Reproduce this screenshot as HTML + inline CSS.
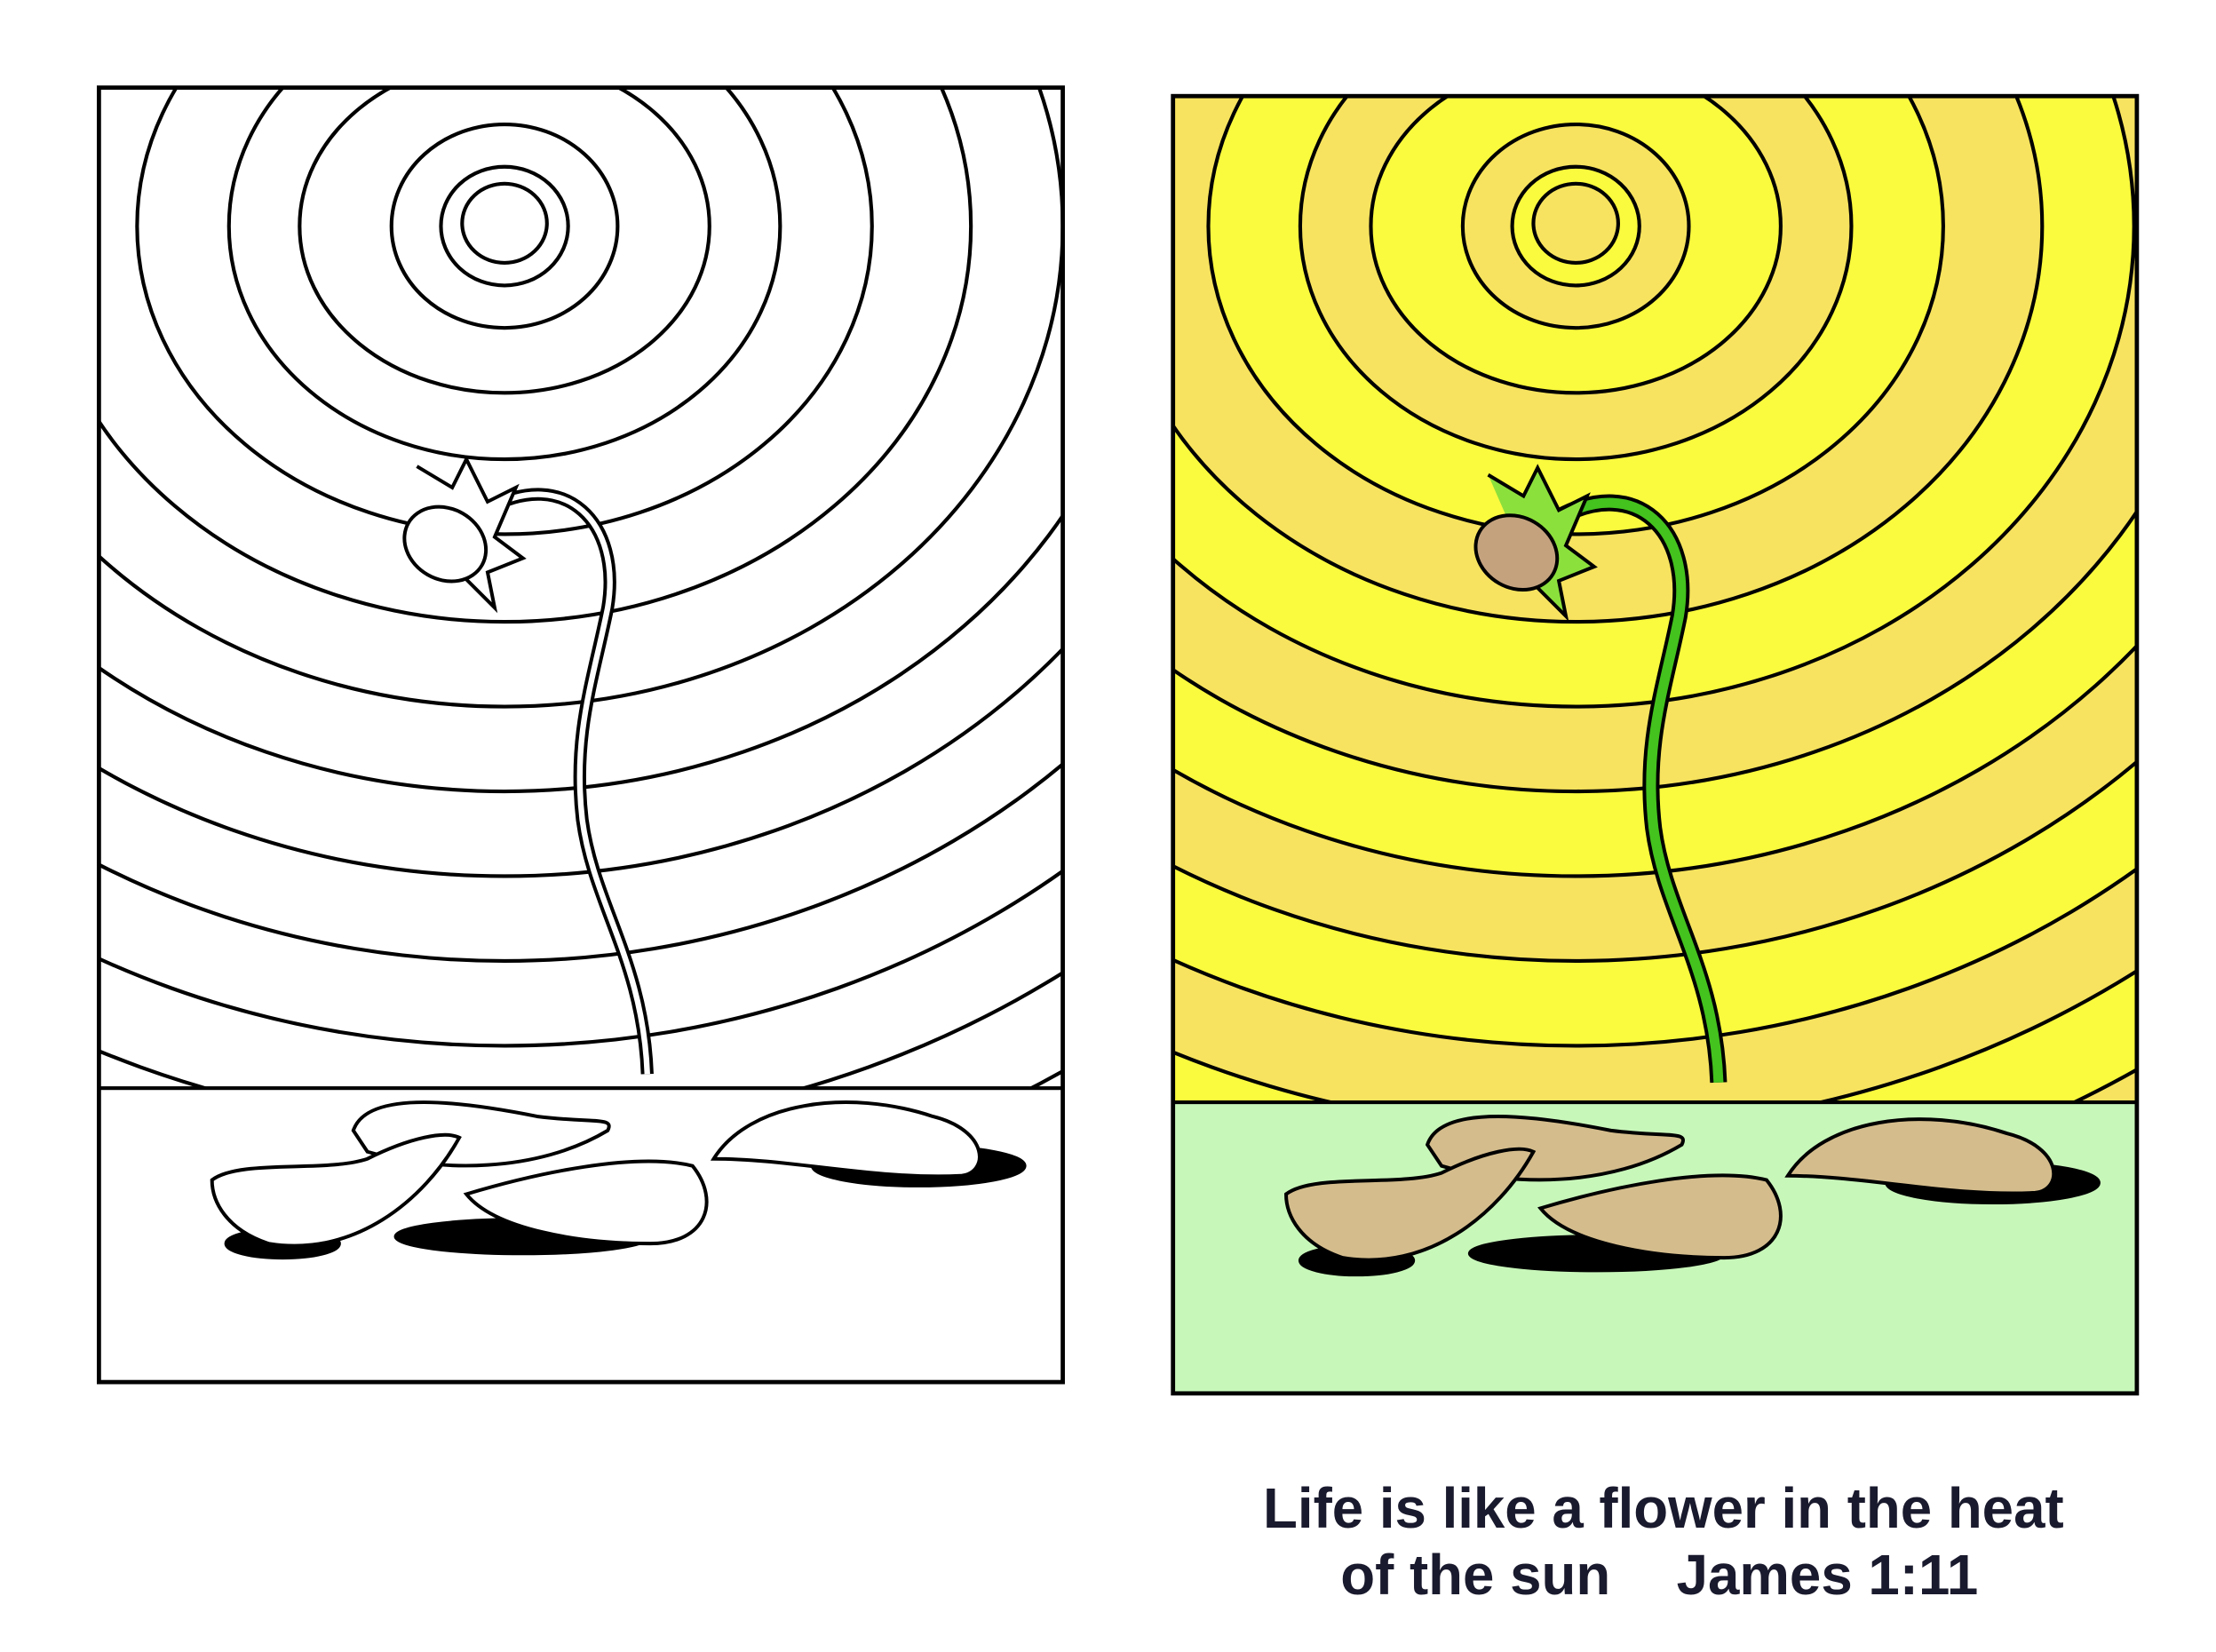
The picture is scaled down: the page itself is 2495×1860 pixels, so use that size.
<!DOCTYPE html>
<html><head><meta charset="utf-8"><style>
html,body{margin:0;padding:0;background:#fff;}
svg{display:block;}
</style></head><body>
<svg width="2495" height="1860" viewBox="0 0 1568 1169" preserveAspectRatio="none" xmlns="http://www.w3.org/2000/svg">
<defs>
<clipPath id="cl"><rect x="70" y="62" width="682" height="916"/></clipPath>
<clipPath id="cr"><rect x="830" y="68" width="682" height="918"/></clipPath>
</defs>

<!-- LEFT PANEL -->
<g clip-path="url(#cl)" fill="none" stroke="#000" stroke-width="2.6">
<rect x="70" y="62" width="682" height="916" fill="#fff" stroke="none"/>
<ellipse cx="357" cy="160" rx="760" ry="700"/>
<ellipse cx="357" cy="160" rx="700" ry="640"/>
<ellipse cx="357" cy="160" rx="640" ry="580"/>
<ellipse cx="357" cy="160" rx="580" ry="520"/>
<ellipse cx="357" cy="160" rx="520" ry="460"/>
<ellipse cx="357" cy="160" rx="460" ry="400"/>
<ellipse cx="357" cy="160" rx="395" ry="340"/>
<ellipse cx="357" cy="160" rx="330" ry="280"/>
<ellipse cx="357" cy="160" rx="260" ry="218"/>
<ellipse cx="357" cy="160" rx="195" ry="165"/>
<ellipse cx="357" cy="160" rx="145" ry="118"/>
<ellipse cx="357" cy="160" rx="80" ry="72"/>
<ellipse cx="357" cy="160" rx="45" ry="42"/>
<ellipse cx="357" cy="158" rx="30" ry="28"/>
<rect x="60" y="770" width="700" height="220" fill="#fff"/>
</g>
<rect x="70" y="62" width="682" height="916" fill="none" stroke="#000" stroke-width="3"/>
<g fill="none" stroke="#000" stroke-width="2.5">
<path d="M345,360 C400,330 440,370 430,430 C420,480 405,520 412,580 C420,640 455,680 458,760" stroke-width="9"/>
<path d="M345,360 C400,330 440,370 430,430 C420,480 405,520 412,580 C420,640 455,680 458,760" stroke="#fff" stroke-width="4"/>
<path d="M295,330 L320,345 L330,325 L345,355 L365,345 L350,380 L370,395 L345,405 L350,430 L330,410" fill="#fff"/>
<ellipse cx="315" cy="385" rx="30" ry="25" fill="#fff" transform="rotate(30 315 385)"/>
</g>
<g stroke="#000" stroke-width="2.5">
<ellipse cx="200" cy="880" rx="40" ry="10" fill="#000"/>
<ellipse cx="370" cy="875" rx="90" ry="12" fill="#000"/>
<ellipse cx="650" cy="825" rx="75" ry="14" fill="#000"/>
<path d="M250,800 C260,770 330,780 380,790 C420,795 435,790 430,800 C380,830 310,830 260,815 Z" fill="#fff"/>
<path d="M150,835 C170,820 230,830 260,820 C290,805 315,800 325,805 C300,850 250,890 190,880 C160,870 150,850 150,835 Z" fill="#fff"/>
<path d="M330,845 C380,830 450,815 490,825 C510,850 500,880 460,880 C410,880 350,870 330,845 Z" fill="#fff"/>
<path d="M505,820 C530,780 600,770 660,790 C700,800 700,830 680,832 C620,835 560,820 505,820 Z" fill="#fff"/>
</g>

<!-- RIGHT PANEL -->
<g clip-path="url(#cr)" stroke="#000" stroke-width="2.6">
<rect x="830" y="68" width="682" height="918" fill="#F7E35F" stroke="none"/>
<ellipse cx="1115" cy="160" rx="760" ry="700" fill="#FAFA3E"/>
<ellipse cx="1115" cy="160" rx="700" ry="640" fill="#F7E35F"/>
<ellipse cx="1115" cy="160" rx="640" ry="580" fill="#FAFA3E"/>
<ellipse cx="1115" cy="160" rx="580" ry="520" fill="#F7E35F"/>
<ellipse cx="1115" cy="160" rx="520" ry="460" fill="#FAFA3E"/>
<ellipse cx="1115" cy="160" rx="460" ry="400" fill="#F7E35F"/>
<ellipse cx="1115" cy="160" rx="395" ry="340" fill="#FAFA3E"/>
<ellipse cx="1115" cy="160" rx="330" ry="280" fill="#F7E35F"/>
<ellipse cx="1115" cy="160" rx="260" ry="218" fill="#FAFA3E"/>
<ellipse cx="1115" cy="160" rx="195" ry="165" fill="#F7E35F"/>
<ellipse cx="1115" cy="160" rx="145" ry="118" fill="#FAFA3E"/>
<ellipse cx="1115" cy="160" rx="80" ry="72" fill="#F7E35F"/>
<ellipse cx="1115" cy="160" rx="45" ry="42" fill="#FAFA3E"/>
<ellipse cx="1115" cy="158" rx="30" ry="28" fill="#F7E35F"/>
<rect x="820" y="780" width="700" height="220" fill="#C8F7BA"/>
</g>
<rect x="830" y="68" width="682" height="918" fill="none" stroke="#000" stroke-width="3"/>
<g fill="none" stroke="#000" stroke-width="2.5">
<path d="M1103,366 C1158,336 1198,376 1188,436 C1178,486 1163,526 1170,586 C1178,646 1213,686 1216,766" stroke-width="12"/>
<path d="M1103,366 C1158,336 1198,376 1188,436 C1178,486 1163,526 1170,586 C1178,646 1213,686 1216,766" stroke="#44C21E" stroke-width="7"/>
<path d="M1053,336 L1078,351 L1088,331 L1103,361 L1123,351 L1108,386 L1128,401 L1103,411 L1108,436 L1088,416" fill="#8CE03C"/>
<ellipse cx="1073" cy="391" rx="30" ry="25" fill="#C4A27E" transform="rotate(30 1073 391)"/>
</g>
<g stroke="#000" stroke-width="2.5">
<ellipse cx="960" cy="892" rx="40" ry="10" fill="#000"/>
<ellipse cx="1130" cy="887" rx="90" ry="12" fill="#000"/>
<ellipse cx="1410" cy="837" rx="75" ry="14" fill="#000"/>
<path d="M1010,810 C1020,780 1090,790 1140,800 C1180,805 1195,800 1190,810 C1140,840 1070,840 1020,825 Z" fill="#D4BC8C"/>
<path d="M910,845 C930,830 990,840 1020,830 C1050,815 1075,810 1085,815 C1060,860 1010,900 950,890 C920,880 910,860 910,845 Z" fill="#D4BC8C"/>
<path d="M1090,855 C1140,840 1210,825 1250,835 C1270,860 1260,890 1220,890 C1170,890 1110,880 1090,855 Z" fill="#D4BC8C"/>
<path d="M1265,832 C1290,792 1360,782 1420,802 C1460,812 1460,842 1440,844 C1380,847 1320,832 1265,832 Z" fill="#D4BC8C"/>
</g>

<g font-family="Liberation Sans, sans-serif" font-weight="bold" font-size="40" fill="#1a1a2e" text-anchor="middle">
<text x="1177" y="1081">Life is like a flower in the heat</text>
<text x="1044" y="1128">of the sun</text>
<text x="1293" y="1128">James 1:11</text>
</g>
</svg>
</body></html>
